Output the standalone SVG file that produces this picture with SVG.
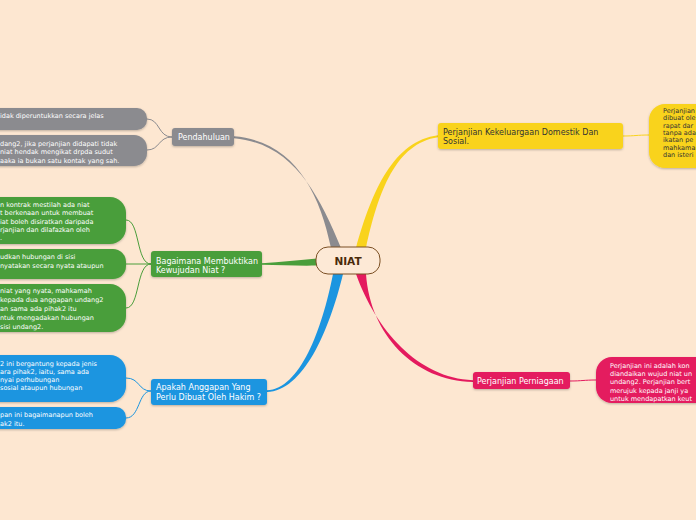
<svg xmlns="http://www.w3.org/2000/svg" width="696" height="520" viewBox="0 0 696 520">
<defs>
<filter id="sh" x="-10%" y="-20%" width="120%" height="150%"><feDropShadow dx="0" dy="1" stdDeviation="0.8" flood-color="#000" flood-opacity="0.25"/></filter>
<style>
text{font-family:"DejaVu Sans","Verdana",sans-serif}
.nt{font-size:8px;fill:#fff}
.lt{font-size:6.5px;fill:#fff}
.yt{font-size:8px;fill:#333}
.ylt{font-size:6.5px;fill:#333}
.sub{fill:none;stroke-width:1}
</style>
</defs>
<rect width="696" height="520" fill="#fde7d1"/>
<g id="connectors">
<path d="M331,248 C319,190 293,141 234,136.3 L234,138.2 C292,143.5 318,192 341,248 Z" fill="#8b8b8f"/>
<path d="M356,248 C372,190 394,141 438,135.3 L438,137.2 C396,143 378,192 366,248 Z" fill="#f9d31c"/>
<path d="M317,258.5 C300,260 280,262 262,263.2 L262,264.8 C280,265 300,266 317,265.5 Z" fill="#4a9e3b"/>
<path d="M333,274 C322,330 300,389 267,390.3 L267,392 C303,391 329,332 343,274 Z" fill="#1b95e0"/>
<path d="M356,274 C376,330 418,378 473,380.2 L473,382 C414,381 370,334 366,274 Z" fill="#e41a5e"/>
<path class="sub" stroke="#8b8b8f" d="M172,137 C158,137 160,119 147,119"/>
<path class="sub" stroke="#8b8b8f" d="M172,137 C158,137 160,150 147,150"/>
<path class="sub" stroke="#4a9e3b" d="M151,264 C136,264 140,220 126,220"/>
<path class="sub" stroke="#4a9e3b" d="M151,264 L126,264"/>
<path class="sub" stroke="#4a9e3b" d="M151,264 C136,264 140,308 126,308"/>
<path class="sub" stroke="#1b95e0" d="M151,391 C138,391 140,378 126,378"/>
<path class="sub" stroke="#1b95e0" d="M151,391 C138,391 140,418 126,418"/>
<path class="sub" stroke="#f9d31c" d="M623,136 C635,136 637,135 649,135"/>
<path class="sub" stroke="#e41a5e" d="M570,381 C582,381 584,380 596,380"/>
</g>
<g id="niat">
<rect x="316" y="247" width="64" height="27" rx="12" fill="#fde9d6" stroke="#7b4f23" stroke-width="1"/>
<text x="348" y="264.5" text-anchor="middle" font-size="10.5" font-weight="bold" fill="#4a2a0a">NIAT</text>
</g>
<g id="pendahuluan">
<rect x="172" y="128" width="62" height="18" rx="3" fill="#8b8b8f" filter="url(#sh)"/>
<text class="nt" x="178" y="140">Pendahuluan</text>
</g>
<g id="pend-leaf1">
<rect x="-30" y="108" width="177" height="22" rx="10" fill="#8b8b8f" filter="url(#sh)"/>
<text class="lt" x="0" y="117.5">idak diperuntukkan secara jelas</text>
</g>
<g id="pend-leaf2">
<rect x="-30" y="135" width="177" height="31" rx="13" fill="#8b8b8f" filter="url(#sh)"/>
<text class="lt" x="0" y="145.5">dang2, jika perjanjian didapati tidak</text>
<text class="lt" x="0" y="154">  niat hendak mengikat drpda sudut</text>
<text class="lt" x="0" y="162.5">aaka ia bukan satu kontak yang sah.</text>
</g>
<g id="bagaimana">
<rect x="151" y="251" width="111" height="26" rx="3" fill="#4a9e3b" filter="url(#sh)"/>
<text class="nt" x="156" y="263.5">Bagaimana Membuktikan</text>
<text class="nt" x="156" y="272.5">Kewujudan Niat ?</text>
</g>
<g id="green-leaf1">
<rect x="-30" y="197" width="156" height="47" rx="16" fill="#4a9e3b" filter="url(#sh)"/>
<text class="lt" x="0" y="206.5">n kontrak mestilah ada niat</text>
<text class="lt" x="0" y="215">t berkenaan untuk membuat</text>
<text class="lt" x="0" y="223.5">iat boleh disiratkan daripada</text>
<text class="lt" x="0" y="232">rjanjian dan dilafazkan oleh</text>
<text class="lt" x="0" y="240">.</text>
</g>
<g id="green-leaf2">
<rect x="-30" y="249" width="156" height="30" rx="13" fill="#4a9e3b" filter="url(#sh)"/>
<text class="lt" x="0" y="258.5">udkan hubungan di sisi</text>
<text class="lt" x="0" y="267.5">nyatakan secara nyata ataupun</text>
</g>
<g id="green-leaf3">
<rect x="-30" y="284" width="156" height="48" rx="16" fill="#4a9e3b" filter="url(#sh)"/>
<text class="lt" x="0" y="292.5">niat yang nyata, mahkamah</text>
<text class="lt" x="0" y="302">kepada dua anggapan undang2</text>
<text class="lt" x="0" y="310.5">an sama ada pihak2 itu</text>
<text class="lt" x="0" y="319.5">ntuk mengadakan hubungan</text>
<text class="lt" x="0" y="328.5"> sisi undang2.</text>
</g>
<g id="apakah">
<rect x="151" y="379" width="116" height="26" rx="3" fill="#1b95e0" filter="url(#sh)"/>
<text class="nt" x="156" y="390">Apakah Anggapan Yang</text>
<text class="nt" x="156" y="399.5">Perlu Dibuat Oleh Hakim ?</text>
</g>
<g id="blue-leaf1">
<rect x="-30" y="355" width="156" height="47" rx="16" fill="#1b95e0" filter="url(#sh)"/>
<text class="lt" x="0" y="365.5">2 ini bergantung kepada jenis</text>
<text class="lt" x="0" y="373.5">ara pihak2, iaitu, sama ada</text>
<text class="lt" x="0" y="381.5">nyai perhubungan</text>
<text class="lt" x="0" y="389.5"> sosial ataupun hubungan</text>
</g>
<g id="blue-leaf2">
<rect x="-30" y="407" width="156" height="22" rx="10" fill="#1b95e0" filter="url(#sh)"/>
<text class="lt" x="0" y="416.5">pan ini bagaimanapun boleh</text>
<text class="lt" x="0" y="425.5">ak2 itu.</text>
</g>
<g id="kekeluargaan">
<rect x="438" y="123" width="185" height="26" rx="3" fill="#f9d31c" filter="url(#sh)"/>
<text class="yt" x="443" y="135">Perjanjian Kekeluargaan Domestik Dan</text>
<text class="yt" x="443" y="144">Sosial.</text>
</g>
<g id="yellow-leaf">
<rect x="649" y="104" width="80" height="64" rx="16" fill="#f9d31c" filter="url(#sh)"/>
<text class="ylt" x="663" y="112.5">Perjanjian</text>
<text class="ylt" x="663" y="120">dibuat ole</text>
<text class="ylt" x="663" y="127.5">rapat dar</text>
<text class="ylt" x="663" y="134.5">tanpa ada</text>
<text class="ylt" x="663" y="142">ikatan pe</text>
<text class="ylt" x="663" y="149.5">mahkama</text>
<text class="ylt" x="663" y="156.5">dan isteri</text>
</g>
<g id="perniagaan">
<rect x="473" y="372" width="97" height="17" rx="3" fill="#e41a5e" filter="url(#sh)"/>
<text class="nt" x="477" y="384">Perjanjian Perniagaan</text>
</g>
<g id="red-leaf">
<rect x="596" y="357" width="130" height="46" rx="16" fill="#e41a5e" filter="url(#sh)"/>
<text class="lt" x="610" y="367.5">Perjanjian ini adalah kon</text>
<text class="lt" x="610" y="375.5">diandaikan wujud niat un</text>
<text class="lt" x="610" y="384">undang2. Perjanjian bert</text>
<text class="lt" x="610" y="392.5">merujuk kepada janji ya</text>
<text class="lt" x="610" y="400.5">untuk mendapatkan keut</text>
</g>
</svg>
